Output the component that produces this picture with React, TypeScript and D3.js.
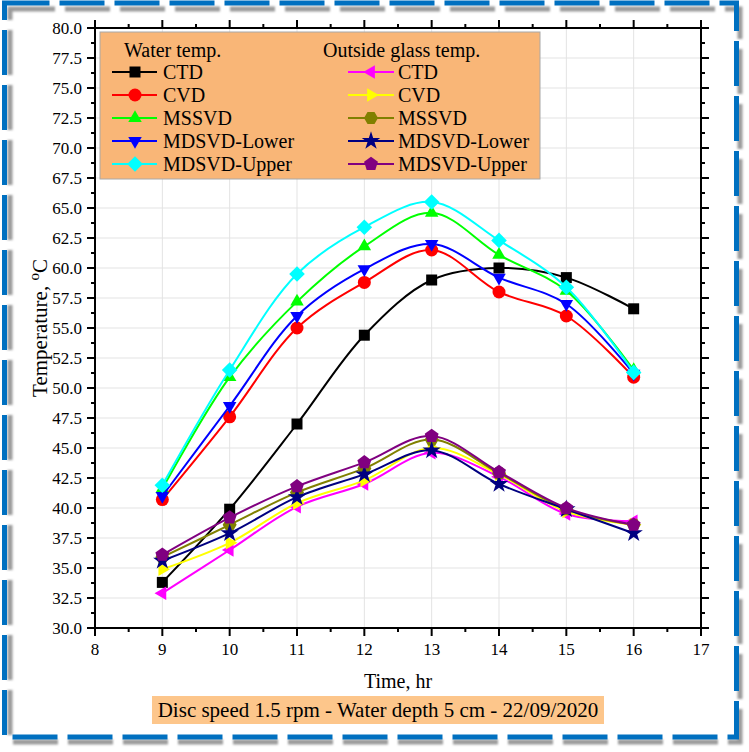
import React from "react";
import * as d3 from "d3";

// hours of the day (x values)
const hours = [9, 10, 11, 12, 13, 14, 15, 16];

// Water temp. (°C)
const waterCTD = [33.8, 39.9, 47.0, 54.4, 59.0, 60.0, 59.2, 56.6];
const waterCVD = [40.7, 47.6, 55.0, 58.8, 61.5, 58.0, 56.0, 50.9];
const waterMSSVD = [41.6, 50.9, 57.2, 61.8, 64.6, 61.1, 58.1, 51.5];
const waterLower = [41.0, 48.5, 56.0, 59.9, 62.0, 59.2, 57.0, 51.2];
const waterUpper = [41.9, 51.5, 59.5, 63.4, 65.5, 62.3, 58.4, 51.3];

// Outside glass temp. (°C)
const glassCTD = [32.9, 36.5, 40.1, 42.0, 44.6, 42.6, 39.5, 38.9];
const glassCVD = [34.9, 37.1, 40.4, 42.3, 45.0, 42.8, 39.7, 38.6];
const glassMSSVD = [35.9, 38.6, 41.3, 43.3, 45.7, 42.9, 39.9, 38.6];
const glassLower = [35.6, 37.9, 40.9, 42.8, 44.8, 42.0, 39.9, 37.9];
const glassUpper = [36.1, 39.2, 41.8, 43.8, 46.0, 43.0, 40.0, 38.6];

const seriesNames = ["CTD", "CVD", "MSSVD", "MDSVD-Lower", "MDSVD-Upper"];
const xTicks = d3.range(8, 18, 1);
const yTicks = d3.range(30, 80.01, 2.5);

const W = 749;
const H = 752;
const plotL = 95, plotR = 701, plotT = 28, plotB = 628;
const font = "'Liberation Serif', 'Times New Roman', serif";

// regular polygon centred on 0,0; rot in degrees
function poly(n: number, r: number, rot: number) {
  const pts = d3.range(n).map(i => {
    const a = ((rot + (360 / n) * i) * Math.PI) / 180;
    return [r * Math.cos(a), r * Math.sin(a)];
  });
  return "M" + pts.map(p => p[0].toFixed(2) + "," + p[1].toFixed(2)).join("L") + "Z";
}

const shapes: Record<string, string> = {
  square: "M-5.5,-5.5h11v11h-11Z",
  circle: "M6.5,0A6.5,6.5,0,1,1,-6.5,0A6.5,6.5,0,1,1,6.5,0Z",
  up: poly(3, 7.8, -90),
  down: poly(3, 7.8, 90),
  diamond: poly(4, 7.8, -90),
  left: poly(3, 7.8, 180),
  right: poly(3, 7.8, 0),
  hexagon: poly(6, 7, 0),
  star: d3.symbol().type(d3.symbolStar).size(105)() as string,
  pentagon: poly(5, 7.3, -90),
};

const waterSeries = [
  { name: seriesNames[0], values: waterCTD, color: "#000000", shape: "square" },
  { name: seriesNames[1], values: waterCVD, color: "#ff0000", shape: "circle" },
  { name: seriesNames[2], values: waterMSSVD, color: "#00ff00", shape: "up" },
  { name: seriesNames[3], values: waterLower, color: "#0000ff", shape: "down" },
  { name: seriesNames[4], values: waterUpper, color: "#00ffff", shape: "diamond" },
];
const glassSeries = [
  { name: seriesNames[0], values: glassCTD, color: "#ff00ff", shape: "left" },
  { name: seriesNames[1], values: glassCVD, color: "#ffff00", shape: "right" },
  { name: seriesNames[2], values: glassMSSVD, color: "#808000", shape: "hexagon" },
  { name: seriesNames[3], values: glassLower, color: "#000080", shape: "star" },
  { name: seriesNames[4], values: glassUpper, color: "#800080", shape: "pentagon" },
];

export default function App() {
  const x = d3.scaleLinear().domain([8, 17]).range([plotL, plotR]);
  const y = d3.scaleLinear().domain([30, 80]).range([plotB, plotT]);
  const line = d3.line<number>()
    .x((_, i) => x(hours[i]))
    .y(d => y(d))
    .curve(d3.curveCatmullRom.alpha(0.5));

  const xMinor = d3.range(8.5, 17, 1);
  const yMinor = d3.range(31.25, 80, 2.5);

  const allSeries = [...waterSeries, ...glassSeries];

  const legendRowY = [72, 95, 118, 141, 164];

  return (
    <svg width={W} height={H} style={{ position: "absolute", left: 0, top: 0, background: "#fff" }} fontFamily={font}>
      <defs>
        <filter id="blur" x="-5%" y="-5%" width="110%" height="110%">
          <feGaussianBlur stdDeviation="1.2" />
        </filter>
      </defs>
      {/* dashed border with shadow */}
      <rect x={10} y={9} width={730} height={733} fill="none" stroke="#9a9a9a" strokeWidth={5}
        strokeDasharray="45 10" filter="url(#blur)" />
      <rect x={4.5} y={3} width={732} height={734} fill="none" stroke="#0070c0" strokeWidth={5}
        strokeDasharray="45 10" />

      {/* grid */}
      <g stroke="#e3e3e3" strokeWidth={1}>
        {xTicks.map(t => <line key={"gx" + t} x1={x(t)} x2={x(t)} y1={plotT} y2={plotB} />)}
        {yTicks.map(t => <line key={"gy" + t} x1={plotL} x2={plotR} y1={y(t)} y2={y(t)} />)}
      </g>

      {/* legend */}
      <rect x={100} y={32} width={440} height={147} fill="#f9b677" stroke="#a8a8a8" strokeWidth={1} />
      <text x={124} y={50} dy="0.35em" fontSize={20}>Water temp.</text>
      <text x={323} y={50} dy="0.35em" fontSize={20}>Outside glass temp.</text>
      {waterSeries.map((s, i) => (
        <g key={"lw" + i} transform={`translate(0,${legendRowY[i]})`}>
          <line x1={112} x2={157} stroke={s.color} strokeWidth={2} />
          <path d={shapes[s.shape]} transform="translate(135,0)" fill={s.color} />
          <text x={163} dy="0.35em" fontSize={20}>{s.name}</text>
        </g>
      ))}
      {glassSeries.map((s, i) => (
        <g key={"lg" + i} transform={`translate(0,${legendRowY[i]})`}>
          <line x1={348} x2={394} stroke={s.color} strokeWidth={2} />
          <path d={shapes[s.shape]} transform="translate(371,0)" fill={s.color} />
          <text x={398} dy="0.35em" fontSize={20}>{s.name}</text>
        </g>
      ))}

      {/* data */}
      {allSeries.map((s, k) => (
        <g key={"s" + k}>
          <path d={line(s.values) as string} fill="none" stroke={s.color} strokeWidth={2} />
          {s.values.map((v, i) => (
            <path key={i} d={shapes[s.shape]} transform={`translate(${x(hours[i])},${y(v)})`} fill={s.color} />
          ))}
        </g>
      ))}

      {/* frame and ticks */}
      <rect x={plotL} y={plotT} width={plotR - plotL} height={plotB - plotT} fill="none" stroke="#000" strokeWidth={2} />
      <g stroke="#000" strokeWidth={2}>
        {xTicks.map(t => (
          <g key={"tx" + t}>
            <line x1={x(t)} x2={x(t)} y1={plotB} y2={plotB + 8} />
            <line x1={x(t)} x2={x(t)} y1={plotT} y2={plotT - 8} />
          </g>
        ))}
        {xMinor.map(t => (
          <g key={"mx" + t}>
            <line x1={x(t)} x2={x(t)} y1={plotB} y2={plotB + 4} />
            <line x1={x(t)} x2={x(t)} y1={plotT} y2={plotT - 4} />
          </g>
        ))}
        {yTicks.map(t => (
          <g key={"ty" + t}>
            <line x1={plotL} x2={plotL - 8} y1={y(t)} y2={y(t)} />
            <line x1={plotR} x2={plotR + 8} y1={y(t)} y2={y(t)} />
          </g>
        ))}
        {yMinor.map(t => (
          <g key={"my" + t}>
            <line x1={plotL} x2={plotL - 4} y1={y(t)} y2={y(t)} />
            <line x1={plotR} x2={plotR + 4} y1={y(t)} y2={y(t)} />
          </g>
        ))}
      </g>
      {xTicks.map(t => (
        <text key={"lx" + t} x={x(t)} y={649} dy="0.35em" textAnchor="middle" fontSize={17}>{t}</text>
      ))}
      {yTicks.map(t => (
        <text key={"ly" + t} x={82} y={y(t)} dy="0.35em" textAnchor="end" fontSize={17}>{t.toFixed(1)}</text>
      ))}

      {/* axis titles */}
      <text x={(plotL + plotR) / 2} y={681} dy="0.35em" textAnchor="middle" fontSize={20}>Time, hr</text>
      <text transform={`translate(40,${(plotT + plotB) / 2}) rotate(-90)`} textAnchor="middle" fontSize={21}>
        <tspan dy="0.35em">Temperature, </tspan>
        <tspan dy="-8" fontSize={15}>o</tspan>
        <tspan dy="8">C</tspan>
      </text>

      {/* caption */}
      <rect x={152} y={696} width={452} height={28} fill="#fdc68b" />
      <text x={378} y={710} dy="0.35em" textAnchor="middle" fontSize={21}>
        Disc speed 1.5 rpm - Water depth 5 cm - 22/09/2020
      </text>
    </svg>
  );
}
